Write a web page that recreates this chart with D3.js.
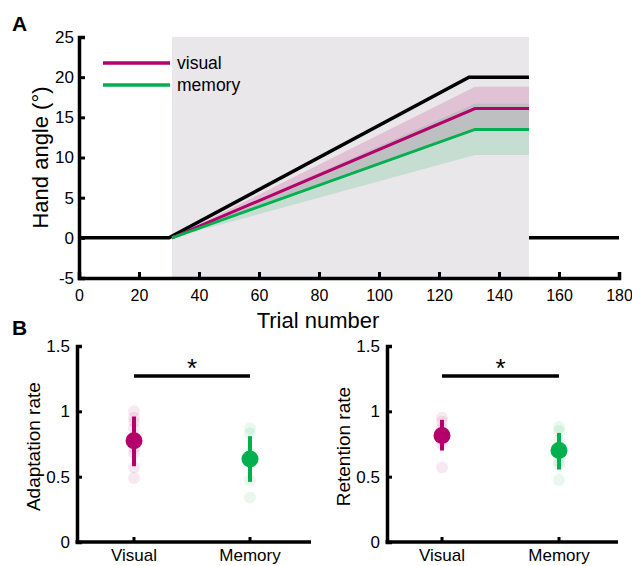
<!DOCTYPE html>
<html>
<head>
<meta charset="utf-8">
<script src="https://cdn.jsdelivr.net/npm/d3@7"></script>
<style>
  body { margin: 0; background: #fff; }
  svg { font-family: "Liberation Sans", Arial, sans-serif; }
</style>
</head>
<body>
<div id="chart"></div>
<script>
// panel A: perturbation schedule and hand angle
var blackTrials = [0, 30, 130, 150];
var blackAngle = [0, 0, 20, 20];
var washoutTrials = [150, 180];
var washoutAngle = [0, 0];
var rampTrials = [31, 132, 150];
var visualMean = [0, 16.1, 16.1];
var visualLow = [0, 13.4, 13.4];
var visualHigh = [0, 18.8, 18.8];
var memoryMean = [0, 13.5, 13.5];
var memoryLow = [0, 10.3, 10.3];
var memoryHigh = [0, 16.7, 16.7];
var xTicksA = [0, 20, 40, 60, 80, 100, 120, 140, 160, 180];
var yTicksA = [-5, 0, 5, 10, 15, 20, 25];

// panel B: rates
var groups = ["Visual", "Memory"];
var adaptMean = [0.775, 0.635];
var adaptErr = [[0.58, 0.96], [0.46, 0.81]];
var adaptVisualPts = [1.0, 0.95, 0.92, 0.87, 0.72, 0.68, 0.57, 0.49];
var adaptMemoryPts = [0.87, 0.83, 0.68, 0.6, 0.47, 0.34];
var retMean = [0.815, 0.70];
var retErr = [[0.70, 0.935], [0.555, 0.835]];
var retVisualPts = [0.95, 0.92, 0.87, 0.78, 0.75, 0.57];
var retMemoryPts = [0.88, 0.85, 0.78, 0.62, 0.59, 0.475];
var yTicksB = [0, 0.5, 1, 1.5];

var magenta = "#b4006a", green = "#00b04f";
var plain = function(d) { return String(d); };

var svg = d3.select("#chart").append("svg")
  .attr("width", 632).attr("height", 566);

// ---------- Panel A ----------
var x = d3.scaleLinear().domain([0, 180]).range([79, 619]);
var y = d3.scaleLinear().domain([-5, 25]).range([278, 37]);

svg.append("rect")
  .attr("x", x(31)).attr("y", y(25))
  .attr("width", x(150) - x(31)).attr("height", y(-5) - y(25))
  .attr("fill", "#e9e7e9");

var area = d3.area()
  .x(function(d) { return x(d[0]); })
  .y0(function(d) { return y(d[1]); })
  .y1(function(d) { return y(d[2]); });
var line = d3.line()
  .x(function(d) { return x(d[0]); })
  .y(function(d) { return y(d[1]); });

svg.append("path")
  .attr("d", area(rampTrials.map(function(t, i) { return [t, visualLow[i], visualHigh[i]]; })))
  .attr("fill", magenta).attr("fill-opacity", 0.16);
svg.append("path")
  .attr("d", area(rampTrials.map(function(t, i) { return [t, memoryLow[i], memoryHigh[i]]; })))
  .attr("fill", green).attr("fill-opacity", 0.15);

svg.append("path")
  .attr("d", line(blackTrials.map(function(t, i) { return [t, blackAngle[i]]; })))
  .attr("fill", "none").attr("stroke", "#000").attr("stroke-width", 3.5);
svg.append("path")
  .attr("d", line(washoutTrials.map(function(t, i) { return [t, washoutAngle[i]]; })))
  .attr("fill", "none").attr("stroke", "#000").attr("stroke-width", 3.5);
svg.append("path")
  .attr("d", line(rampTrials.map(function(t, i) { return [t, visualMean[i]]; })))
  .attr("fill", "none").attr("stroke", magenta).attr("stroke-width", 3);
svg.append("path")
  .attr("d", line(rampTrials.map(function(t, i) { return [t, memoryMean[i]]; })))
  .attr("fill", "none").attr("stroke", green).attr("stroke-width", 3);

var gxA = svg.append("g").attr("transform", "translate(0," + y(-5) + ")")
  .call(d3.axisBottom(x).tickValues(xTicksA).tickFormat(plain).tickSize(-6).tickPadding(12));
var gyA = svg.append("g").attr("transform", "translate(" + x(0) + ",0)")
  .call(d3.axisLeft(y).tickValues(yTicksA).tickFormat(plain).tickSize(-6).tickPadding(5));

[gxA, gyA].forEach(function(g) {
  g.select(".domain").attr("stroke-width", 3.5);
  g.selectAll(".tick line").attr("stroke-width", 3);
  g.selectAll(".tick text").attr("font-size", 17).attr("fill", "#000");
});
gxA.selectAll(".tick text").attr("font-size", 16);

// legend
var legend = [["visual", magenta], ["memory", green]];
legend.forEach(function(l, i) {
  svg.append("line")
    .attr("x1", 103).attr("x2", 170)
    .attr("y1", 63 + i * 22).attr("y2", 63 + i * 22)
    .attr("stroke", l[1]).attr("stroke-width", 3.5);
  svg.append("text")
    .attr("x", 177).attr("y", 69 + i * 22)
    .attr("font-size", 17.5).text(l[0]);
});

svg.append("text")
  .attr("transform", "translate(48," + y(10) + ") rotate(-90)")
  .attr("text-anchor", "middle").attr("font-size", 22).text("Hand angle (°)");
svg.append("text")
  .attr("x", 318).attr("y", 328)
  .attr("text-anchor", "middle").attr("font-size", 22).text("Trial number");

svg.append("text").attr("x", 12).attr("y", 31)
  .attr("font-size", 21).attr("font-weight", "bold").text("A");
svg.append("text").attr("x", 12).attr("y", 335)
  .attr("font-size", 21).attr("font-weight", "bold").text("B");

// ---------- Panel B ----------
function ratePanel(left, right, catX, label, means, errs, visPts, memPts) {
  var yb = d3.scaleLinear().domain([0, 1.5]).range([542, 346]);
  var xb = d3.scaleOrdinal().domain(groups).range(catX);
  var g = svg.append("g");

  var pts = [visPts, memPts];
  var colors = [magenta, green];
  groups.forEach(function(name, i) {
    g.selectAll(null).data(pts[i]).enter().append("circle")
      .attr("cx", xb(name)).attr("cy", function(d) { return yb(d); })
      .attr("r", 6).attr("fill", colors[i]).attr("fill-opacity", 0.09);
    g.append("line")
      .attr("x1", xb(name)).attr("x2", xb(name))
      .attr("y1", yb(errs[i][0])).attr("y2", yb(errs[i][1]))
      .attr("stroke", colors[i]).attr("stroke-width", 4);
    g.append("circle")
      .attr("cx", xb(name)).attr("cy", yb(means[i]))
      .attr("r", 8.5).attr("fill", colors[i]);
  });

  // significance bar
  g.append("line")
    .attr("x1", xb(groups[0])).attr("x2", xb(groups[1]))
    .attr("y1", yb(1.27)).attr("y2", yb(1.27))
    .attr("stroke", "#000").attr("stroke-width", 3.5);
  g.append("text")
    .attr("x", (xb(groups[0]) + xb(groups[1])) / 2).attr("y", yb(1.27) + 1)
    .attr("text-anchor", "middle").attr("font-size", 26).text("*");

  var gy = g.append("g").attr("transform", "translate(" + left + ",0)")
    .call(d3.axisLeft(yb).tickValues(yTicksB).tickFormat(plain).tickSize(-5).tickPadding(7));
  gy.select(".domain").attr("stroke-width", 3.5);
  gy.selectAll(".tick line").attr("stroke-width", 3);
  gy.selectAll(".tick text").attr("font-size", 17).attr("fill", "#000");

  g.append("line")
    .attr("x1", left - 1.5).attr("x2", right)
    .attr("y1", yb(0)).attr("y2", yb(0))
    .attr("stroke", "#000").attr("stroke-width", 3.5);
  groups.forEach(function(name) {
    g.append("line")
      .attr("x1", xb(name)).attr("x2", xb(name))
      .attr("y1", yb(0)).attr("y2", yb(0) - 5)
      .attr("stroke", "#000").attr("stroke-width", 3);
    g.append("text")
      .attr("x", xb(name)).attr("y", 561)
      .attr("text-anchor", "middle").attr("font-size", 17).text(name);
  });

  g.append("text")
    .attr("transform", "translate(" + (left - 37) + "," + yb(0.73) + ") rotate(-90)")
    .attr("text-anchor", "middle").attr("font-size", 19).text(label);
}

ratePanel(77, 311, [134, 250], "Adaptation rate", adaptMean, adaptErr, adaptVisualPts, adaptMemoryPts);
ratePanel(387, 618, [442, 559], "Retention rate", retMean, retErr, retVisualPts, retMemoryPts);
</script>
</body>
</html>
